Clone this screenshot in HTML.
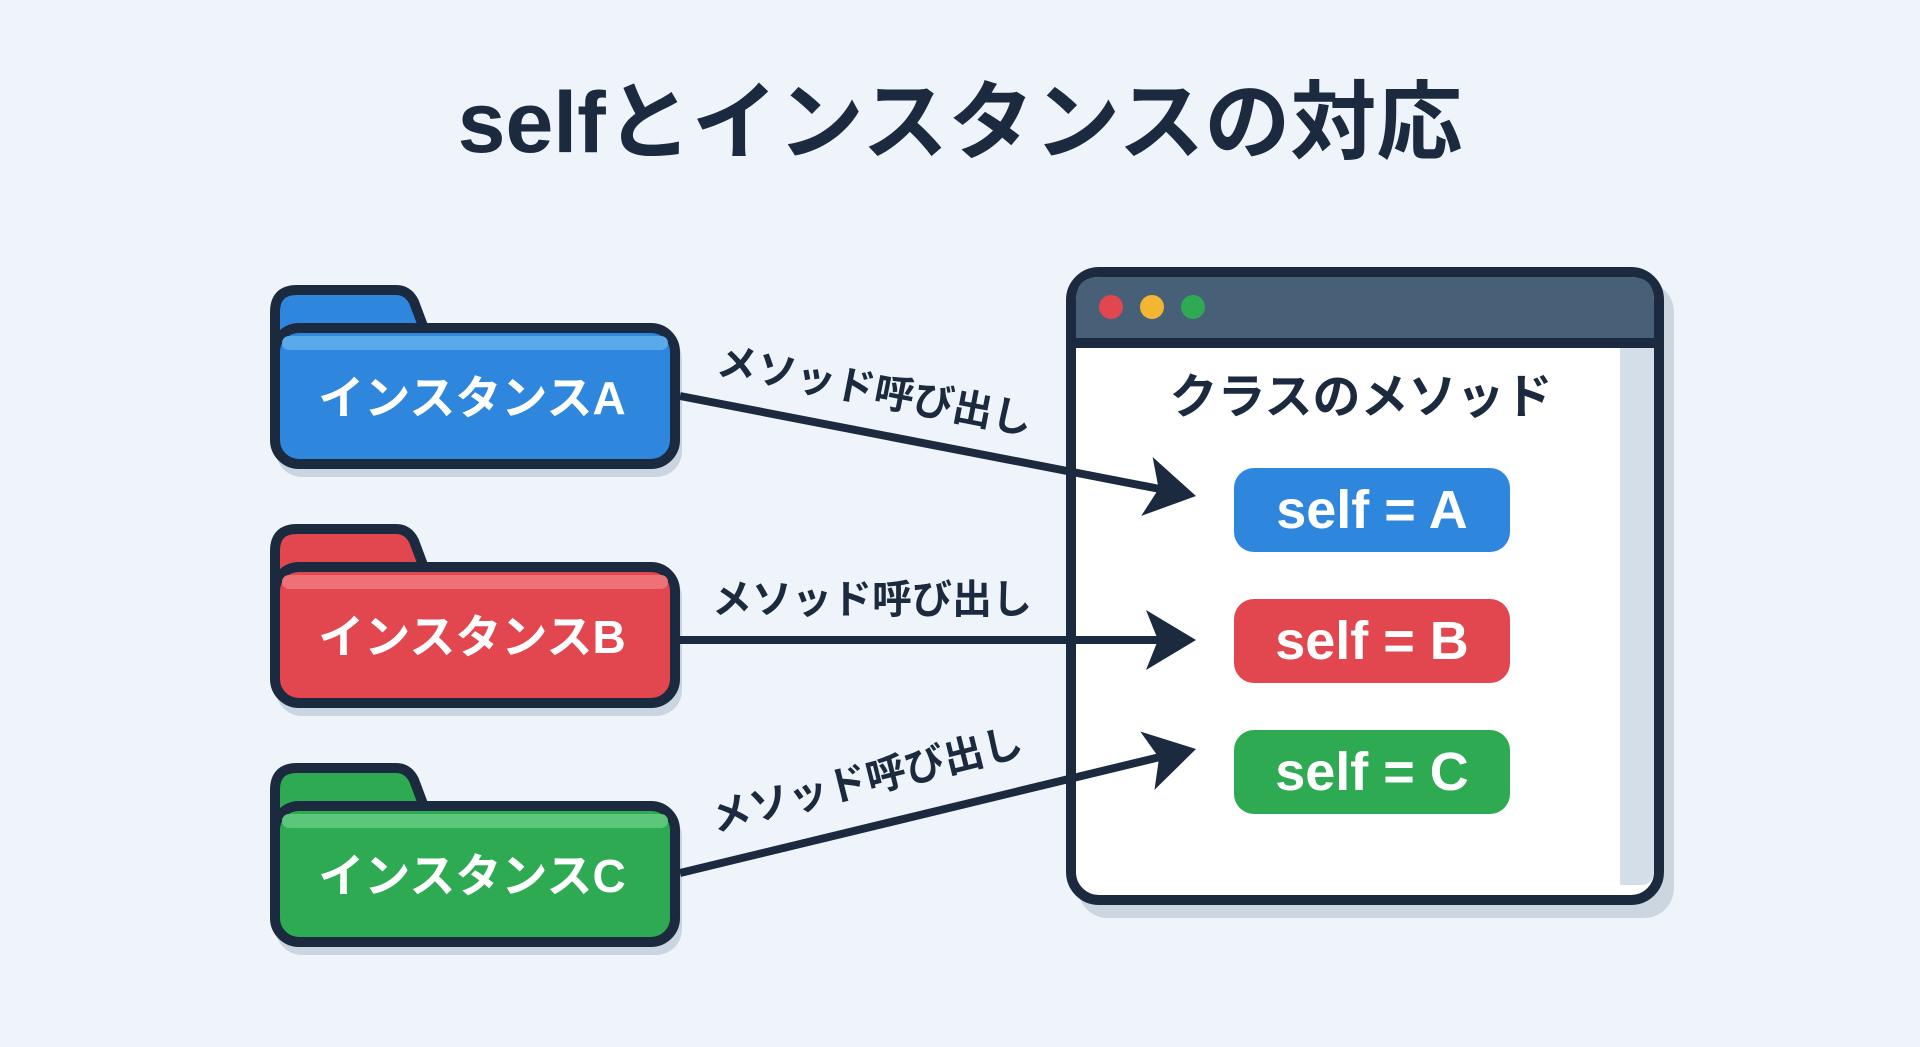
<!DOCTYPE html>
<html><head><meta charset="utf-8"><style>
html,body{margin:0;padding:0;background:#eef4f9;}
svg{display:block}
text{font-family:"Liberation Sans","Noto Sans CJK JP",sans-serif;font-weight:bold;}
</style></head><body>
<svg width="1920" height="1047" viewBox="0 0 1920 1047" xmlns="http://www.w3.org/2000/svg">
<rect width="1920" height="1047" fill="#eef4f9"/>
<text x="960" y="152" font-size="86" text-anchor="middle" fill="#1b2a3e">selfとインスタンスの対応</text>

<!-- folders -->
<g>
  <rect x="276" y="333" width="406" height="144" rx="26" fill="#c9d5e0"/>
  <path d="M275 350 V312 Q275 290 297 290 H396 Q408 290 414 302 L432 350 Z" fill="#2f86dd" stroke="#1b2a3e" stroke-width="10" stroke-linejoin="round"/>
  <rect x="275" y="328" width="400" height="136" rx="24" fill="#2f86dd" stroke="#1b2a3e" stroke-width="10"/>
  <rect x="282" y="336" width="386" height="14" rx="7" fill="#5aa9ea"/>
  <text x="472" y="414" font-size="46" text-anchor="middle" fill="#fff">インスタンスA</text>
</g>
<g>
  <rect x="276" y="572" width="406" height="144" rx="26" fill="#c9d5e0"/>
  <path d="M275 589 V551 Q275 529 297 529 H396 Q408 529 414 541 L432 589 Z" fill="#e2474f" stroke="#1b2a3e" stroke-width="10" stroke-linejoin="round"/>
  <rect x="275" y="567" width="400" height="136" rx="24" fill="#e2474f" stroke="#1b2a3e" stroke-width="10"/>
  <rect x="282" y="575" width="386" height="14" rx="7" fill="#ee7178"/>
  <text x="472" y="653" font-size="46" text-anchor="middle" fill="#fff">インスタンスB</text>
</g>
<g>
  <rect x="276" y="811" width="406" height="144" rx="26" fill="#c9d5e0"/>
  <path d="M275 828 V790 Q275 768 297 768 H396 Q408 768 414 780 L432 828 Z" fill="#2eaa52" stroke="#1b2a3e" stroke-width="10" stroke-linejoin="round"/>
  <rect x="275" y="806" width="400" height="136" rx="24" fill="#2eaa52" stroke="#1b2a3e" stroke-width="10"/>
  <rect x="282" y="814" width="386" height="14" rx="7" fill="#5cc67a"/>
  <text x="472" y="892" font-size="46" text-anchor="middle" fill="#fff">インスタンスC</text>
</g>

<!-- window -->
<rect x="1078" y="282" width="596" height="636" rx="30" fill="#cbd6e0"/>
<rect x="1071" y="272" width="588" height="628" rx="28" fill="#ffffff" stroke="#1b2a3e" stroke-width="10"/>
<path d="M1076 345 V300 Q1076 277 1099 277 H1631 Q1654 277 1654 300 V345 Z" fill="#475f77"/>
<rect x="1076" y="338" width="578" height="10" fill="#1b2a3e"/>
<path d="M1620 348 H1654 V870 Q1654 885 1640 885 H1620 Z" fill="#d3dee8"/>
<circle cx="1111" cy="307" r="12" fill="#e2474f"/>
<circle cx="1152" cy="307" r="12" fill="#f2b634"/>
<circle cx="1193" cy="307" r="12" fill="#2eaa52"/>
<text x="1361" y="413" font-size="48" text-anchor="middle" fill="#1b2a3e">クラスのメソッド</text>

<rect x="1234" y="468" width="276" height="84" rx="20" fill="#2f86dd"/>
<text x="1372" y="528" font-size="54" text-anchor="middle" fill="#fff">self = A</text>
<rect x="1234" y="599" width="276" height="84" rx="20" fill="#e2474f"/>
<text x="1372" y="659" font-size="54" text-anchor="middle" fill="#fff">self = B</text>
<rect x="1234" y="730" width="276" height="84" rx="20" fill="#2eaa52"/>
<text x="1372" y="790" font-size="54" text-anchor="middle" fill="#fff">self = C</text>

<!-- arrows -->
<g stroke="#1b2a3e" stroke-width="8" fill="none">
  <line x1="680" y1="396" x2="1160" y2="489"/>
  <line x1="680" y1="640" x2="1160" y2="640"/>
  <line x1="680" y1="873" x2="1160" y2="757"/>
</g>
<g fill="#1b2a3e">
  <polygon points="1196,640 1146,610 1158,640 1146,670"/>
  <polygon points="1196,640 1146,610 1158,640 1146,670" transform="rotate(10.96 1196 496) translate(0 -144)"/>
  <polygon points="1196,640 1146,610 1158,640 1146,670" transform="rotate(-13.6 1196 749) translate(0 109)"/>
</g>
<text x="872" y="613" font-size="40" text-anchor="middle" fill="#1b2a3e">メソッド呼び出し</text>
<text x="0" y="0" font-size="40" text-anchor="middle" fill="#1b2a3e" transform="translate(872 404) rotate(11)">メソッド呼び出し</text>
<text x="0" y="0" font-size="40" text-anchor="middle" fill="#1b2a3e" transform="translate(870 793) rotate(-14)">メソッド呼び出し</text>
</svg>
</body></html>
